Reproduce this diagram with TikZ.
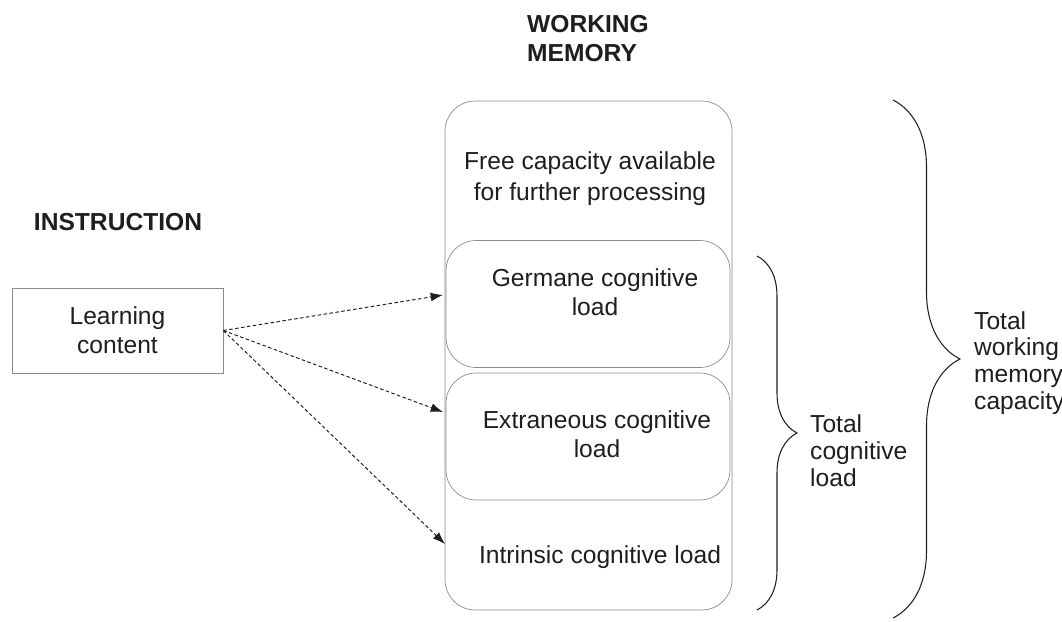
\documentclass[tikz,border=0pt]{standalone}
\usepackage{fontspec}
\setmainfont{Liberation Sans}
\usetikzlibrary{positioning,decorations.pathreplacing,arrows.meta,calc}
\definecolor{boxgray}{HTML}{8C8C8C}
\definecolor{inkgray}{HTML}{1E1E1E}

\begin{document}
\begin{tikzpicture}[x=0.02cm,y=-0.02cm,
  font=\fontsize{14}{16.5}\selectfont, text=inkgray,
  layer/.style={draw=boxgray, rounded corners=0.6cm, minimum width=5.68cm, minimum height=2.54cm, inner sep=0pt},
  flow/.style={draw=inkgray, line width=0.55pt, dash pattern=on 2pt off 1.4pt, -{Latex[length=7pt,width=5pt]}},
  curly/.style={draw=inkgray, line width=0.6pt, decorate, decoration={brace}}]
\useasboundingbox (0,0) rectangle (1062,622);

% titles
\node[font=\fontsize{14}{16.5}\selectfont\bfseries, align=left, anchor=west] at (521,39)
  (wmtitle) {WORKING\\MEMORY};
\node[font=\fontsize{14}{16.5}\selectfont\bfseries] at (118,222)
  (instr) {INSTRUCTION};

% learning content
\node[draw=boxgray, minimum width=4.22cm, minimum height=1.7cm, align=center] at (117.5,330.5)
  (content) {Learning\\content};

% working memory
\node[draw=boxgray, rounded corners=0.6cm, minimum width=5.74cm, minimum height=10.18cm] at (588.5,355.5)
  (wm) {};
\node[layer] at (588,304) (germane) {};
\node[layer] at (588,436.5) (extraneous) {};

\node[align=center, font=\fontsize{14}{17.5}\selectfont] at (590,179) (free) {Free capacity available\\for further processing};
\node[align=center] at (595,292) (germanetxt) {Germane cognitive\\load};
\node[align=center] at (597,434) (extrtxt) {Extraneous cognitive\\load};
\node[] at (600,557) (intrtxt) {Intrinsic cognitive load};

% arrows
\coordinate (tipg) at (443,295);
\coordinate (tipe) at (443,412);
\coordinate (tipi) at (445,544);
\draw[flow] (content.east) -- (tipg);
\draw[flow] (content.east) -- (tipe);
\draw[flow] (content.east) -- (tipi);

% braces
\coordinate (cltop) at (757,256);
\coordinate (clbot) at (757,610);
\coordinate (wmtop) at (893,100);
\coordinate (wmbot) at (893,618);
\draw[curly, decoration={amplitude=0.8cm}] (cltop) -- (clbot);
\draw[curly, decoration={amplitude=1.34cm}] (wmtop) -- (wmbot);

\node[align=left, anchor=west, font=\fontsize{14}{15.3}\selectfont] at (804,451) (cltxt) {Total\\cognitive\\load};
\node[align=left, anchor=west, font=\fontsize{14}{15.3}\selectfont] at (968,363) (wmtxt) {Total\\working\\memory\\capacity};

\end{tikzpicture}
\end{document}
